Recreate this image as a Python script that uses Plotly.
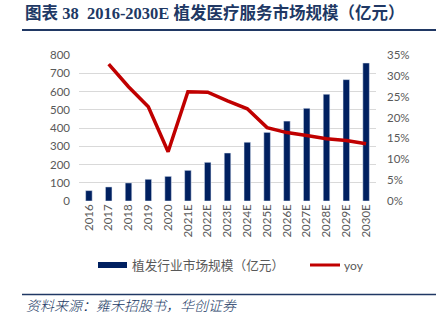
import plotly.graph_objects as go

# 植发医疗服务市场规模（亿元）及同比增速
years = ["2016", "2017", "2018", "2019", "2020", "2021E", "2022E", "2023E",
         "2024E", "2025E", "2026E", "2027E", "2028E", "2029E", "2030E"]
market_size = [57, 77, 99, 119, 135, 168, 212, 263, 322, 376, 438, 508, 585, 665, 756]
yoy_years = years[1:]
yoy = [0.328, 0.274, 0.226, 0.118, 0.262, 0.261, 0.240, 0.221, 0.176, 0.164,
       0.157, 0.149, 0.145, 0.137]

y_ticks = [0, 100, 200, 300, 400, 500, 600, 700, 800]
y2_ticks = [0, 0.05, 0.10, 0.15, 0.20, 0.25, 0.30, 0.35]

NAVY = "#002060"
RED = "#C00000"
TITLE_BLUE = "#203864"
TICK_GREY = "#595959"
GRID = "#D9D9D9"
FONT = "Lato, Noto Sans CJK SC, sans-serif"

fig = go.Figure()
fig.add_trace(go.Bar(x=years, y=market_size, marker_color=NAVY,
                     name="植发行业市场规模（亿元）", showlegend=False))
fig.add_trace(go.Scatter(x=yoy_years, y=yoy, yaxis="y2", mode="lines",
                         line=dict(color=RED, width=3.5), name="yoy",
                         showlegend=False))

W, H = 448, 322
L, R, T, B = 79, 72, 55, 121
pw, ph = W - L - R, H - T - B


def px(x):
    return (x - L) / pw


def py(y):
    return (H - B - y) / ph


shapes = [
    # title rule
    dict(type="line", xref="paper", yref="paper", x0=px(22), x1=px(436),
         y0=py(30), y1=py(30), line=dict(color=TITLE_BLUE, width=1.8)),
    # source rule
    dict(type="line", xref="paper", yref="paper", x0=px(22), x1=px(436),
         y0=py(294.5), y1=py(294.5), line=dict(color=TITLE_BLUE, width=1.5)),
    # legend swatches
    dict(type="rect", xref="paper", yref="paper", x0=px(98), x1=px(127),
         y0=py(268), y1=py(262), fillcolor=NAVY, line=dict(width=0)),
    dict(type="line", xref="paper", yref="paper", x0=px(310), x1=px(340),
         y0=py(265), y1=py(265), line=dict(color=RED, width=3)),
]

annotations = [
    dict(text="<b>图表 38  2016-2030E 植发医疗服务市场规模（亿元）</b>",
         xref="paper", yref="paper", x=px(23), y=py(13), xanchor="left",
         yanchor="middle", showarrow=False,
         font=dict(family="Liberation Serif, Noto Sans CJK SC, serif",
                   size=16.5, color=TITLE_BLUE)),
    dict(text="植发行业市场规模（亿元）", xref="paper", yref="paper",
         x=px(130), y=py(265), xanchor="left", yanchor="middle",
         showarrow=False, font=dict(family=FONT, size=12.7, color=TICK_GREY)),
    dict(text="yoy", xref="paper", yref="paper", x=px(342), y=py(265),
         xanchor="left", yanchor="middle", showarrow=False,
         font=dict(family=FONT, size=12, color=TICK_GREY)),
    dict(text="资料来源：雍禾招股书，华创证券", xref="paper", yref="paper",
         x=px(24), y=py(305), xanchor="left", yanchor="middle",
         showarrow=False,
         font=dict(family="Noto Sans CJK SC, sans-serif", size=14,
                   color=TITLE_BLUE, style="italic", weight=300)),
]

fig.update_layout(
    width=W, height=H,
    margin=dict(l=L, r=R, t=T, b=B),
    paper_bgcolor="white", plot_bgcolor="white",
    bargap=0.67,
    font=dict(family=FONT, size=11, color=TICK_GREY),
    xaxis=dict(type="category", tickangle=-90, showgrid=False,
               showline=False, ticks="", tickfont=dict(size=11.5, color=TICK_GREY)),
    yaxis=dict(range=[0, 800], tickvals=y_ticks, showgrid=True,
               gridcolor=GRID, gridwidth=1, zeroline=False, showline=False,
               ticklabelstandoff=8, tickfont=dict(size=11.5, color=TICK_GREY)),
    yaxis2=dict(range=[0, 0.35], tickvals=y2_ticks, tickformat=".0%",
                overlaying="y", side="right", showgrid=False, zeroline=False,
                showline=False, ticklabelstandoff=10,
                tickfont=dict(size=11.5, color=TICK_GREY)),
    shapes=shapes,
    annotations=annotations,
)

fig.write_html("out.html")
